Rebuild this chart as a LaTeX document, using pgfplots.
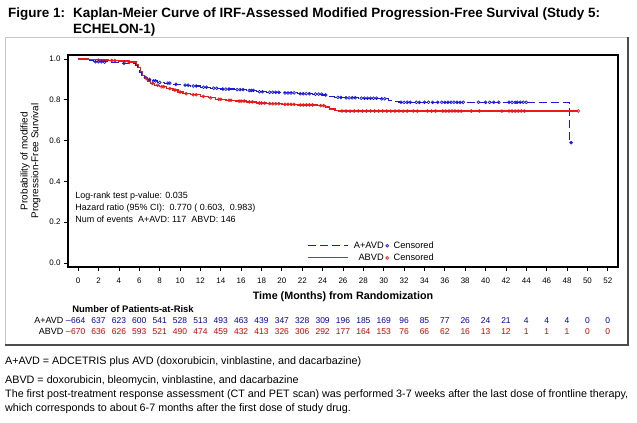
\documentclass[border=0pt]{standalone}
\usepackage{pgfplots}
\usepackage{pgfplotstable}
\pgfplotsset{compat=1.18}
\usepackage{fontspec}
\setmainfont{Liberation Sans}
\definecolor{kmblue}{RGB}{25,25,225}
\definecolor{kmred}{RGB}{235,25,25}
\definecolor{riskblue}{RGB}{0,0,180}
\definecolor{riskred}{RGB}{205,0,0}
\pgfplotsset{
  blue legend/.style={legend image code/.code={\draw[kmblue, line width=1.1bp, dash pattern=on 8bp off 4bp] (0bp,0bp) -- (40bp,0bp);}},
  red legend/.style={legend image code/.code={\draw[kmred, line width=1.4bp] (0bp,0.5bp) -- (40bp,0.5bp);}},
}

% KM steps: time, survival after event
\pgfplotstableread{
t s
0 1.0
0.5 0.997
1 0.993
1.5 0.99
2 0.987
3 0.985
4 0.98
5 0.977
5.6 0.97
5.8 0.955
6.0 0.935
6.2 0.92
6.5 0.91
6.8 0.90
7.2 0.893
7.8 0.885
8.5 0.882
9.3 0.876
10.2 0.872
11 0.868
12 0.862
13 0.857
14 0.853
15.3 0.85
16.5 0.846
17.5 0.84
18.5 0.837
20 0.834
21.5 0.83
23 0.828
24 0.824
24.6 0.818
25.2 0.812
26 0.81
27.5 0.808
29.5 0.805
30.5 0.795
31 0.79
31.5 0.788
48.2 0.59
48.4 0.59
}\kmA

\pgfplotstableread{
t s
0 1.0
1 0.998
2 0.995
3 0.993
4 0.99
5 0.985
5.7 0.975
5.9 0.96
6.1 0.94
6.3 0.92
6.5 0.905
6.8 0.893
7.1 0.88
7.5 0.872
8 0.864
8.7 0.855
9.3 0.848
9.8 0.838
10.3 0.83
11 0.825
12 0.817
12.8 0.81
13.5 0.803
14.5 0.798
15.5 0.794
16.5 0.79
17.5 0.784
18.5 0.781
20 0.778
21.5 0.775
23.5 0.772
24.3 0.765
24.7 0.755
25.2 0.748
25.6 0.745
49.1 0.745
}\kmB

% censored observations
\pgfplotstableread{
t s
1.7 0.987
2.0 0.987
2.3 0.987
2.6 0.985
4.5 0.98
6.6 0.91
7.0 0.90
7.4 0.893
7.6 0.893
8.0 0.885
8.8 0.882
9.0 0.882
9.6 0.876
10.5 0.872
10.8 0.872
11.3 0.868
11.6 0.868
12.3 0.862
12.6 0.862
13.3 0.857
13.6 0.857
14.2 0.853
14.5 0.853
14.8 0.853
15.6 0.85
15.9 0.85
16.2 0.85
16.8 0.846
17.0 0.846
17.2 0.846
17.8 0.84
18.1 0.84
18.8 0.837
19.1 0.837
19.4 0.837
19.7 0.837
20.3 0.834
20.6 0.834
20.9 0.834
21.2 0.834
21.8 0.83
22.1 0.83
22.4 0.83
22.7 0.83
23.3 0.828
23.6 0.828
23.9 0.828
24.3 0.824
25.5 0.812
25.8 0.812
26.3 0.81
26.6 0.81
26.9 0.81
27.2 0.81
27.8 0.808
28.1 0.808
28.4 0.808
28.7 0.808
29.0 0.808
29.3 0.808
29.8 0.805
30.1 0.805
31.7 0.788
32.0 0.788
32.3 0.788
32.6 0.788
33.2 0.788
33.5 0.788
34.0 0.788
34.4 0.788
34.8 0.788
35.3 0.788
35.7 0.788
36.0 0.788
36.3 0.788
36.6 0.788
36.9 0.788
37.2 0.788
37.5 0.788
37.8 0.788
39.3 0.788
40.0 0.788
40.4 0.788
40.8 0.788
41.3 0.788
42.3 0.788
42.6 0.788
42.9 0.788
43.1 0.788
43.4 0.788
43.7 0.788
44.0 0.788
}\censA

\pgfplotstableread{
t s
2.0 0.995
3.3 0.993
3.6 0.993
5.0 0.985
6.7 0.905
7.3 0.88
7.8 0.872
8.2 0.864
8.4 0.864
9.0 0.855
9.5 0.848
10.0 0.838
10.6 0.83
11.3 0.825
11.6 0.825
12.3 0.817
13.0 0.81
13.8 0.803
14.0 0.803
14.8 0.798
15.0 0.798
15.8 0.794
16.0 0.794
16.3 0.794
16.8 0.79
17.1 0.79
17.8 0.784
18.0 0.784
18.3 0.784
18.8 0.781
19.1 0.781
19.4 0.781
19.7 0.781
20.3 0.778
20.6 0.778
20.9 0.778
21.2 0.778
21.8 0.775
22.1 0.775
22.4 0.775
22.7 0.775
23.0 0.775
23.8 0.772
24.1 0.772
25.9 0.745
26.3 0.745
26.7 0.745
27.1 0.745
27.5 0.745
27.9 0.745
28.3 0.745
28.7 0.745
29.1 0.745
29.5 0.745
29.9 0.745
30.3 0.745
30.7 0.745
31.1 0.745
31.5 0.745
31.9 0.745
32.3 0.745
32.9 0.745
33.3 0.745
34.3 0.745
34.7 0.745
35.1 0.745
35.8 0.745
36.1 0.745
36.4 0.745
36.7 0.745
37.0 0.745
37.3 0.745
37.6 0.745
38.6 0.745
39.4 0.745
41.6 0.745
42.3 0.745
42.6 0.745
42.9 0.745
43.2 0.745
43.5 0.745
43.8 0.745
49.1 0.745
}\censB

% patients at risk
\pgfplotstableread{
t y n
0 -0.282 664
2 -0.282 637
4 -0.282 623
6 -0.282 600
8 -0.282 541
10 -0.282 528
12 -0.282 513
14 -0.282 493
16 -0.282 463
18 -0.282 439
20 -0.282 347
22 -0.282 328
24 -0.282 309
26 -0.282 196
28 -0.282 185
30 -0.282 169
32 -0.282 96
34 -0.282 85
36 -0.282 77
38 -0.282 26
40 -0.282 24
42 -0.282 21
44 -0.282 4
46 -0.282 4
48 -0.282 4
50 -0.282 0
52 -0.282 0
}\riskA

\pgfplotstableread{
t y n
0 -0.336 670
2 -0.336 636
4 -0.336 626
6 -0.336 593
8 -0.336 521
10 -0.336 490
12 -0.336 474
14 -0.336 459
16 -0.336 432
18 -0.336 413
20 -0.336 326
22 -0.336 306
24 -0.336 292
26 -0.336 177
28 -0.336 164
30 -0.336 153
32 -0.336 76
34 -0.336 66
36 -0.336 62
38 -0.336 16
40 -0.336 13
42 -0.336 12
44 -0.336 1
46 -0.336 1
48 -0.336 1
50 -0.336 0
52 -0.336 0
}\riskB

\begin{document}
\begin{tikzpicture}
\useasboundingbox (0,0) rectangle (637bp,-423bp);

% title
\node[anchor=base west, inner sep=0pt, font=\fontsize{13.5}{15}\selectfont\bfseries] at (8bp,-17bp) {Figure 1:};
\node[anchor=base west, inner sep=0pt, font=\fontsize{13.5}{15}\selectfont\bfseries] at (73bp,-17bp) {Kaplan-Meier Curve of IRF-Assessed Modified Progression-Free Survival (Study 5:};
\node[anchor=base west, inner sep=0pt, font=\fontsize{13.5}{15}\selectfont\bfseries] at (73bp,-33bp) {ECHELON-1)};

% frame
\draw[gray!45, line width=1bp] (5bp,-37bp) rectangle (628bp,-345bp);
\draw[gray!60!black, line width=1.5bp] (628bp,-37bp) -- (628bp,-345bp) -- (5bp,-345bp);

\begin{axis}[
  at={(68bp,-55bp)}, anchor=north west,
  scale only axis, width=550bp, height=212bp,
  xmin=-1, xmax=53, ymin=-0.02, ymax=1.02,
  xtick={0,2,...,52}, ytick={0,0.2,0.4,0.6,0.8,1},
  yticklabel style={/pgf/number format/fixed, /pgf/number format/fixed zerofill, /pgf/number format/precision=1},
  xticklabel style={yshift=-3bp},
  /pgf/number format/assume math mode=true,
  tick label style={font=\fontsize{8}{9}\selectfont},
  tick align=outside, tick pos=left, major tick length=4bp,
  every tick/.style={black, line width=0.8bp},
  axis line style={line width=1.2bp},
  xlabel={\bfseries Time (Months) from Randomization},
  xlabel style={font=\fontsize{10.8}{12}\selectfont, yshift=-2bp},
  ylabel={Probability of modified\\Progression-Free Survival},
  ylabel style={align=center, font=\fontsize{10}{11}\selectfont},
  ylabel shift=2bp,
  clip=false,
  legend columns=2,
  legend style={draw=none, fill=none, at={(0.435,0.13)}, anchor=north west,
    font=\fontsize{9.3}{11}\selectfont, inner sep=0pt,
    /tikz/every odd column/.append style={column sep=3bp}},
  legend cell align=right,
]
\addplot[const plot, kmblue, line width=1.1bp, dash pattern=on 8bp off 4bp, blue legend] table[x=t, y=s] {\kmA};
\addlegendentry{A+AVD}
\addplot[only marks, mark=o, mark size=1.4bp, kmblue, mark options={line width=0.7bp}] table[x=t, y=s] {\censA};
\addlegendentry{Censored}
\addplot[const plot, kmred, line width=1.3bp, red legend] table[x=t, y=s] {\kmB};
\addlegendentry{ABVD}
\addplot[only marks, mark=o, mark size=1.4bp, kmred, mark options={line width=0.7bp}] table[x=t, y=s] {\censB};
\addlegendentry{Censored}
\addplot[only marks, mark=*, mark size=1.6bp, kmblue, forget plot] coordinates {(48.4,0.59)};

% at-risk table
\addplot[draw=none, mark=none, forget plot, nodes near coords, point meta=explicit symbolic,
  nodes near coords style={anchor=center, text=riskblue, font=\fontsize{8.5}{9}\selectfont}]
  table[x=t, y=y, meta=n] {\riskA};
\addplot[draw=none, mark=none, forget plot, nodes near coords, point meta=explicit symbolic,
  nodes near coords style={anchor=center, text=riskred, font=\fontsize{8.5}{9}\selectfont}]
  table[x=t, y=y, meta=n] {\riskB};

\node[anchor=base west, inner sep=0pt, font=\fontsize{9.5}{11}\selectfont\bfseries] at (axis cs:-0.6,-0.245) {Number of Patients-at-Risk};
\node[anchor=east, inner sep=0pt, font=\fontsize{9}{10}\selectfont] at (axis cs:-0.7,-0.282) {A+AVD \textcolor{riskblue}{–}};
\node[anchor=east, inner sep=0pt, font=\fontsize{9}{10}\selectfont] at (axis cs:-0.7,-0.336) {ABVD \textcolor{riskred}{–}};

% statistics
\node[anchor=north west, align=left, inner sep=0pt, font=\fontsize{9}{12}\selectfont] at (rel axis cs:0.013,0.355)
  {Log-rank test p-value: 0.035\\Hazard ratio (95\% CI):\ \ 0.770 ( 0.603,\ \ 0.983)\\Num of events\ \ A+AVD: 117\ \ ABVD: 146};
\end{axis}

% footnotes
\begin{scope}[every node/.style={anchor=base west, inner sep=0pt, font=\fontsize{10.8}{12}\selectfont}]
\node at (5bp,-364bp) {A+AVD = ADCETRIS plus AVD (doxorubicin, vinblastine, and dacarbazine)};
\node at (5bp,-383bp) {ABVD = doxorubicin, bleomycin, vinblastine, and dacarbazine};
\node at (5bp,-397bp) {The first post-treatment response assessment (CT and PET scan) was performed 3-7 weeks after the last dose of frontline therapy,};
\node at (5bp,-411bp) {which corresponds to about 6-7 months after the first dose of study drug.};
\end{scope}
\end{tikzpicture}
\end{document}
